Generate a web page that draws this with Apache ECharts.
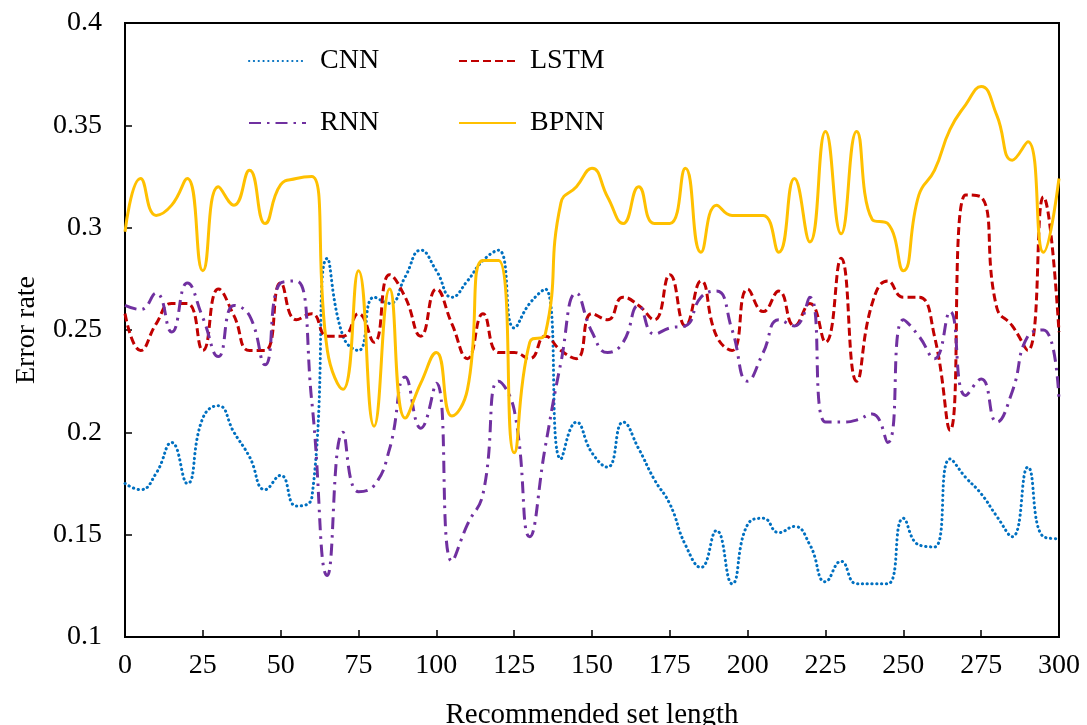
<!DOCTYPE html>
<html>
<head>
<meta charset="utf-8">
<script src="https://cdn.jsdelivr.net/npm/echarts@6/dist/echarts.min.js"></script>
<style>html,body{margin:0;padding:0;background:#fff;}#chart{width:1087px;height:725px;}</style>
</head>
<body>
<div id="chart"></div>
<script>
const xValues = [0,5,10,15,20,25,30,35,40,45,50,55,60,65,70,75,80,85,90,95,100,105,110,115,120,125,130,135,140,145,150,155,160,165,170,175,180,185,190,195,200,205,210,215,220,225,230,235,240,245,250,255,260,265,270,275,280,285,290,295,300];
const cnn = [0.175,0.172,0.180,0.195,0.175,0.207,0.213,0.200,0.188,0.172,0.179,0.164,0.168,0.285,0.247,0.240,0.266,0.263,0.276,0.289,0.279,0.266,0.274,0.284,0.289,0.251,0.263,0.270,0.187,0.205,0.190,0.183,0.205,0.192,0.177,0.165,0.145,0.134,0.152,0.126,0.155,0.158,0.151,0.154,0.145,0.127,0.137,0.126,0.126,0.126,0.158,0.145,0.144,0.187,0.178,0.170,0.159,0.149,0.183,0.149,0.148];
const lstm = [0.258,0.240,0.253,0.263,0.263,0.240,0.270,0.257,0.240,0.240,0.273,0.255,0.258,0.247,0.247,0.258,0.244,0.277,0.266,0.247,0.270,0.253,0.236,0.258,0.239,0.239,0.236,0.247,0.240,0.236,0.258,0.255,0.266,0.262,0.255,0.277,0.252,0.274,0.247,0.240,0.270,0.259,0.269,0.252,0.263,0.244,0.285,0.225,0.263,0.274,0.266,0.266,0.247,0.201,0.316,0.315,0.261,0.252,0.240,0.315,0.249];
const rnn = [0.262,0.260,0.268,0.249,0.273,0.256,0.237,0.262,0.257,0.233,0.273,0.274,0.215,0.130,0.200,0.171,0.174,0.192,0.227,0.202,0.224,0.137,0.155,0.170,0.225,0.211,0.149,0.193,0.234,0.268,0.249,0.239,0.244,0.262,0.248,0.251,0.252,0.266,0.269,0.250,0.225,0.239,0.255,0.252,0.266,0.205,0.205,0.206,0.209,0.195,0.255,0.247,0.236,0.259,0.218,0.226,0.205,0.220,0.247,0.250,0.216];
const bpnn = [0.298,0.324,0.306,0.311,0.324,0.279,0.320,0.311,0.328,0.302,0.321,0.324,0.325,0.240,0.221,0.279,0.203,0.270,0.207,0.224,0.239,0.208,0.221,0.284,0.284,0.190,0.244,0.248,0.312,0.320,0.329,0.315,0.302,0.320,0.302,0.302,0.329,0.288,0.311,0.306,0.306,0.306,0.288,0.324,0.293,0.347,0.297,0.347,0.304,0.302,0.279,0.316,0.328,0.348,0.360,0.369,0.355,0.333,0.342,0.288,0.324];
const seriesNames = ['CNN','LSTM','RNN','BPNN'];
const xAxisTitle = 'Recommended set length';
const yAxisTitle = 'Error rate';

const pairs = arr => xValues.map((x, i) => [x, arr[i]]);
const FONT = 'Liberation Serif';

const chart = echarts.init(document.getElementById('chart'), null, {renderer: 'canvas'});

function legendAt(name, left, top) {
  return {
    data: [name], left: left, top: top, padding: 0, orient: 'horizontal',
    selectedMode: false, itemWidth: 57, itemHeight: 14,
    itemStyle: {opacity: 0},
    textStyle: {fontFamily: FONT, fontSize: 28, color: '#000', padding: [0, 0, 0, 9]}
  };
}

const option = {
  backgroundColor: '#fff',
  animation: false,
  grid: {left: 125, right: 28, top: 23, bottom: 88, containLabel: false, outerBoundsMode: 'none',
         show: true, borderColor: '#000', borderWidth: 2, backgroundColor: 'transparent'},
  legend: [
    legendAt(seriesNames[0], 248, 47),
    legendAt(seriesNames[1], 458, 47),
    legendAt(seriesNames[2], 248, 109),
    legendAt(seriesNames[3], 458, 109)
  ],
  xAxis: {
    type: 'value', min: 0, max: 300, interval: 25,
    name: xAxisTitle, nameLocation: 'middle', nameGap: 64,
    nameTextStyle: {fontFamily: FONT, fontSize: 29, color: '#000'},
    axisLine: {lineStyle: {color: '#000', width: 2}},
    axisTick: {inside: true, length: 7, lineStyle: {color: '#000', width: 1.5}},
    axisLabel: {fontFamily: FONT, fontSize: 28, color: '#000', margin: 15},
    splitLine: {show: false}
  },
  yAxis: {
    type: 'value', min: 0.1, max: 0.4, interval: 0.05,
    name: yAxisTitle, nameLocation: 'middle', nameGap: 84, nameRotate: 90,
    nameTextStyle: {fontFamily: FONT, fontSize: 28, color: '#000'},
    axisLine: {show: true, lineStyle: {color: '#000', width: 2}},
    axisTick: {show: true, inside: true, length: 7, lineStyle: {color: '#000', width: 1.5}},
    axisLabel: {fontFamily: FONT, fontSize: 28, color: '#000', margin: 23,
      formatter: v => String(+v.toFixed(2))},
    splitLine: {show: false}
  },
  series: [
    {name: 'CNN', type: 'line', data: pairs(cnn), smooth: 0.5, symbol: 'none', z: 2,
     itemStyle: {color: '#0070C0'},
     lineStyle: {color: '#0070C0', width: 3, type: [0.3, 4.5], cap: 'round'}},
    {name: 'LSTM', type: 'line', data: pairs(lstm), smooth: 0.5, symbol: 'none', z: 3,
     itemStyle: {color: '#C00000'},
     lineStyle: {color: '#C00000', width: 3, type: [8, 4]}},
    {name: 'RNN', type: 'line', data: pairs(rnn), smooth: 0.5, symbol: 'none', z: 4,
     itemStyle: {color: '#7030A0'},
     lineStyle: {color: '#7030A0', width: 3, type: [12, 6, 2.5, 6]}},
    {name: 'BPNN', type: 'line', data: pairs(bpnn), smooth: 0.5, symbol: 'none', z: 5,
     itemStyle: {color: '#FFC000'},
     lineStyle: {color: '#FFC000', width: 3}}
  ]
};
chart.setOption(option);
</script>
</body>
</html>
